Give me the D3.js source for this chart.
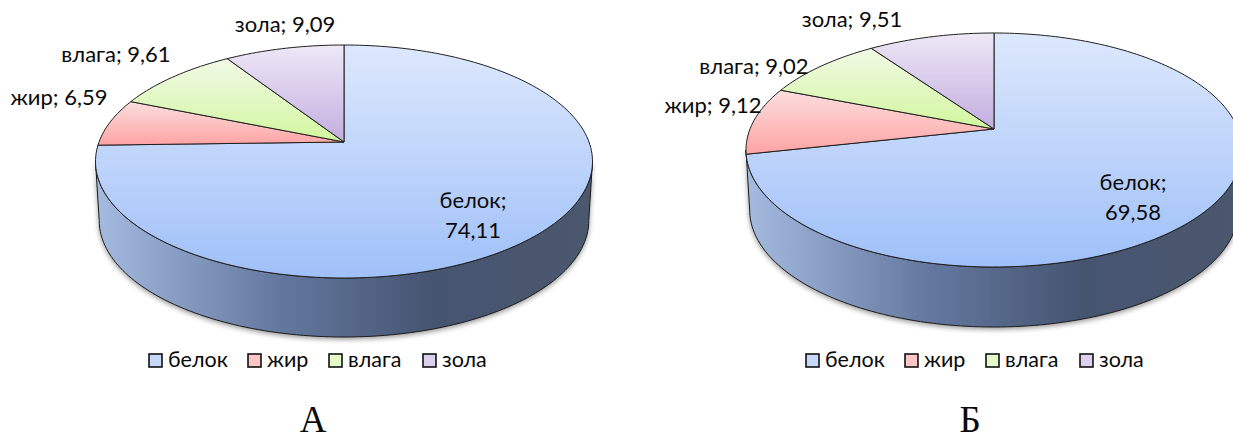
<!DOCTYPE html>
<html lang="ru">
<head>
  <meta charset="UTF-8" />
  <title>Состав - А и Б</title>
  <script src="https://cdn.jsdelivr.net/npm/d3@7"></script>
  <style>
    html, body { margin: 0; background: #fff; overflow: hidden; }
    svg { display: block; }
    text { font-family: Lato, "Open Sans", sans-serif; font-size: 22px; fill: #0a0a0a; }
    .legend-text { font-size: 21.5px; }
    .panel-title { font-family: "Liberation Serif", serif; font-size: 37px; text-anchor: middle; }
  </style>
</head>
<body>
  <div id="chart"></div>
  <script>
    const categories = ["белок", "жир", "влага", "зола"];
    const valuesA = [74.11, 6.59, 9.61, 9.09];
    const valuesB = [69.58, 9.12, 9.02, 9.51];
    const panelNames = ["А", "Б"];

    const topColors = [
      ["#dde8fc", "#9fc0f9"],
      ["#fbdede", "#ffa3a3"],
      ["#f1f9e6", "#d2f79e"],
      ["#eee8f7", "#c3aee0"]
    ];
    const legendFill = ["#c6d9f8", "#fdc6c6", "#e4fac8", "#dbd0ee"];

    // hub + perspective parameters fitted to each pie
    const panels = [
      {
        id: "a", values: valuesA, hubX: 344, hubY: 142, farY: 45, nearY: 278, rx: 245, depth: 59,
        titleX: 313, legendX: [149, 248, 329, 423], legendY: 354,
        labels: [[473, 208], [59, 105], [116, 62], [285, 32]]
      },
      {
        id: "b", values: valuesB, hubX: 994, hubY: 129, farY: 33, nearY: 267, rx: 244, depth: 60,
        titleX: 970, legendX: [806, 905, 986, 1080], legendY: 354,
        labels: [[1133, 190], [713, 113], [754, 74], [852, 27]]
      }
    ];

    const fmt = d3.formatLocale({ decimal: ",", thousands: " ", grouping: [3], currency: ["", ""] }).format(".2f");

    const svg = d3.select("#chart").append("svg").attr("width", 1233).attr("height", 435);
    const defs = svg.append("defs");

    const shadow = defs.append("filter").attr("id", "shadow")
      .attr("x", "-5%").attr("y", "-5%").attr("width", "110%").attr("height", "115%");
    shadow.append("feDropShadow").attr("dx", 0).attr("dy", 2).attr("stdDeviation", 2.5)
      .attr("flood-color", "#000").attr("flood-opacity", 0.4);

    topColors.forEach((c, i) => {
      const g = defs.append("linearGradient").attr("id", "top" + i)
        .attr("x1", 0).attr("y1", 0).attr("x2", 0).attr("y2", 1);
      g.append("stop").attr("offset", 0).attr("stop-color", c[0]);
      g.append("stop").attr("offset", 1).attr("stop-color", c[1]);
    });

    const sideGrad = defs.append("linearGradient").attr("id", "side")
      .attr("x1", 0).attr("y1", 0).attr("x2", 1).attr("y2", 0);
    [[0, "#a6bbe0"], [0.37, "#64789f"], [0.68, "#455470"], [1, "#4b586d"]]
      .forEach(s => sideGrad.append("stop").attr("offset", s[0]).attr("stop-color", s[1]));

    const line = d3.line();
    const pie = d3.pie().sort(null).value(d => d);

    panels.forEach(p => {
      // circle -> screen: a point at angle t (clockwise from the far side) seen in perspective
      const persp = (p.farY + p.nearY - 2 * p.hubY) / (p.farY - p.nearY);
      const slope = p.nearY * (1 + persp) - p.hubY;
      const project = t => {
        const u = Math.sin(t), v = -Math.cos(t), w = 1 + persp * v;
        return [p.hubX + p.rx * u / w, (p.hubY + slope * v) / w];
      };
      const g = svg.append("g").attr("id", "pie-" + p.id);

      // side wall: front half of the rim, bottom edge a little narrower than the top
      const t0 = Math.acos(persp);
      const ts = d3.range(0, 121).map(i => t0 + (2 * Math.PI - 2 * t0) * i / 120);
      const rim = ts.map(project);
      const lower = rim.slice().reverse().map(d => [p.hubX + (d[0] - p.hubX) * 0.985, d[1] + p.depth]);
      g.append("path")
        .attr("d", line(rim.concat(lower)) + "Z")
        .attr("fill", "url(#side)")
        .attr("stroke", "#1a1a1a")
        .attr("stroke-width", 1)
        .attr("stroke-linejoin", "round")
        .attr("filter", "url(#shadow)");

      // top face
      pie(p.values).forEach((a, i) => {
        const n = Math.max(2, Math.ceil((a.endAngle - a.startAngle) * 40));
        const arc = d3.range(n + 1).map(k => project(a.startAngle + (a.endAngle - a.startAngle) * k / n));
        g.append("path")
          .attr("d", line([[p.hubX, p.hubY]].concat(arc)) + "Z")
          .attr("fill", `url(#top${i})`)
          .attr("stroke", "#1f1f1f")
          .attr("stroke-width", 1)
          .attr("stroke-linejoin", "round");
      });

      // data labels
      categories.forEach((name, i) => {
        const [x, y] = p.labels[i];
        if (i === 0) {
          g.append("text").attr("x", x).attr("y", y).attr("text-anchor", "middle").text(name + ";");
          g.append("text").attr("x", x).attr("y", y + 30).attr("text-anchor", "middle").text(fmt(p.values[i]));
        } else {
          g.append("text").attr("x", x).attr("y", y).attr("text-anchor", "middle").text(`${name}; ${fmt(p.values[i])}`);
        }
      });

      // legend
      categories.forEach((name, i) => {
        g.append("rect")
          .attr("x", p.legendX[i]).attr("y", p.legendY)
          .attr("width", 13).attr("height", 13)
          .attr("fill", legendFill[i])
          .attr("stroke", "#111").attr("stroke-width", 1.6);
        g.append("text").attr("class", "legend-text")
          .attr("x", p.legendX[i] + 19).attr("y", p.legendY + 13).text(name);
      });

      g.append("text").attr("class", "panel-title")
        .attr("x", p.titleX).attr("y", 432)
        .text(panelNames[panels.indexOf(p)]);
    });
  </script>
</body>
</html>
